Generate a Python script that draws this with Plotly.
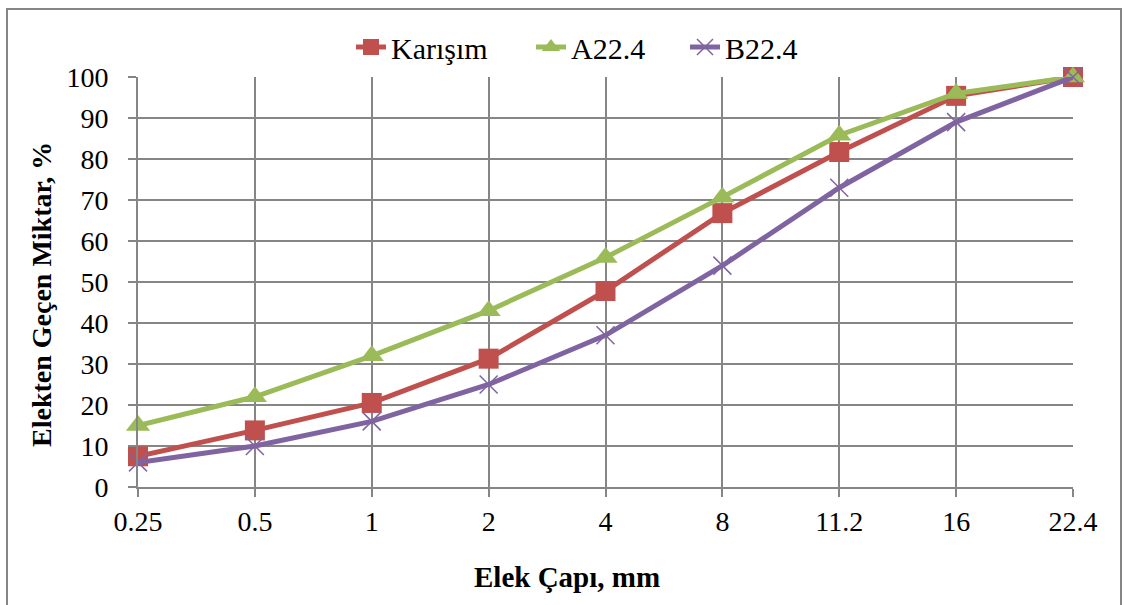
import plotly.graph_objects as go

sizes = ["0.25", "0.5", "1", "2", "4", "8", "11.2", "16", "22.4"]
karisim = [7.5, 13.8, 20.5, 31.3, 47.8, 66.8, 81.7, 95.4, 100]
a224 = [15, 22, 32, 43, 56, 70.7, 85.8, 96, 100]
b224 = [6, 10, 16, 25, 37, 54, 73, 89, 100]

W, H = 1124, 605
L, R, T, B = 138, 1073, 77, 487
pw = R - L
ph = B - T


def px(p):
    return (p - L) / pw


def py(p):
    return (B - p) / ph


FAM = "Liberation Serif, Times New Roman, Times, serif"
BLACK = "black"

fig = go.Figure()
fig.add_trace(go.Scatter(x=sizes, y=karisim, name="Karışım", mode="lines+markers",
                         line=dict(color="#C0504D", width=5),
                         marker=dict(symbol="square", size=20, color="#C0504D"),
                         cliponaxis=False, legend="legend"))
fig.add_trace(go.Scatter(x=sizes, y=a224, name="A22.4", mode="lines+markers",
                         line=dict(color="#9BBB59", width=5),
                         marker=dict(symbol="triangle-up", size=21, color="#9BBB59"),
                         cliponaxis=False, legend="legend2"))
fig.add_trace(go.Scatter(x=sizes, y=b224, name="B22.4", mode="lines+markers",
                         line=dict(color="#8064A2", width=5),
                         marker=dict(symbol="x-thin", size=18, line=dict(color="#8064A2", width=1.5)),
                         cliponaxis=False, legend="legend3"))

fig.add_shape(type="rect", xref="paper", yref="paper",
              x0=px(7), x1=px(1121), y0=py(640), y1=py(9),
              line=dict(color="#868686", width=2), layer="below")

fig.add_annotation(text="<b>Elekten Geçen Miktar, %</b>", xref="paper", yref="paper",
                   x=px(41), y=py(295), textangle=-90, showarrow=False,
                   xanchor="center", yanchor="middle",
                   font=dict(family=FAM, size=28, color=BLACK))
fig.add_annotation(text="<b>Elek Çapı, mm</b>", xref="paper", yref="paper",
                   x=px(567), y=py(577), showarrow=False,
                   xanchor="center", yanchor="middle",
                   font=dict(family=FAM, size=29, color=BLACK))


def leg(xp):
    return dict(orientation="h", x=px(xp), xanchor="left", y=py(47), yanchor="middle",
                font=dict(family=FAM, size=30, color=BLACK), bgcolor="rgba(0,0,0,0)")


fig.update_layout(
    width=W, height=H,
    margin=dict(l=L, r=W - R, t=T, b=H - B),
    paper_bgcolor="white", plot_bgcolor="white",
    font=dict(family=FAM, size=28, color=BLACK),
    showlegend=True,
    legend=leg(351), legend2=leg(531), legend3=leg(685),
    xaxis=dict(type="category", range=[0, 8], showgrid=True, gridcolor="#868686", gridwidth=2,
               showline=True, linecolor="#868686", linewidth=2,
               ticks="outside", ticklen=8, tickcolor="#868686", tickwidth=2,
               ticklabelstandoff=0, tickfont=dict(family=FAM, size=28, color=BLACK),
               zeroline=False),
    yaxis=dict(range=[0, 100], dtick=10, showgrid=True, gridcolor="#868686", gridwidth=2,
               showline=True, linecolor="#868686", linewidth=2,
               ticks="outside", ticklen=8, tickcolor="#868686", tickwidth=2,
               ticklabelstandoff=14, tickfont=dict(family=FAM, size=28, color=BLACK),
               zeroline=False),
)

fig.write_html("out.html")
